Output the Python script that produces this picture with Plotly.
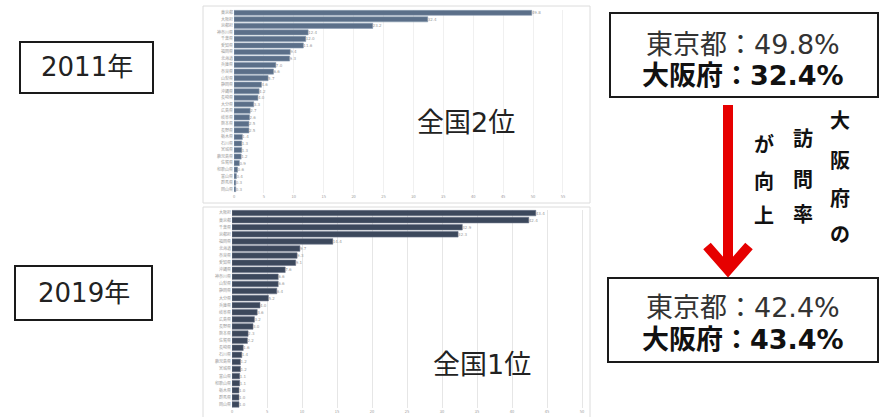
import plotly.graph_objects as go

W, H = 885, 417

# 2011 visit rate by prefecture (%)
pref_2011 = ["東京都", "大阪府", "京都府", "神奈川県", "千葉県", "愛知県", "福岡県", "北海道",
             "兵庫県", "奈良県", "山梨県", "静岡県", "沖縄県", "長崎県", "大分県", "広島県",
             "岐阜県", "熊本県", "長野県", "栃木県", "石川県", "宮城県", "鹿児島県", "佐賀県",
             "和歌山県", "富山県", "群馬県", "岡山県"]
rate_2011 = [49.8, 32.4, 23.2, 12.4, 12.0, 11.6, 9.4, 9.3, 7.0, 6.6, 5.7, 4.6, 4.2, 4.0,
             3.3, 2.7, 2.6, 2.5, 2.5, 1.4, 1.3, 1.3, 1.2, 0.9, 0.6, 0.4, 0.3, 0.3]

# 2019 visit rate by prefecture (%)
pref_2019 = ["大阪府", "東京都", "千葉県", "京都府", "福岡県", "北海道", "奈良県", "愛知県",
             "沖縄県", "神奈川県", "山梨県", "静岡県", "大分県", "兵庫県", "岐阜県", "広島県",
             "長野県", "熊本県", "佐賀県", "長崎県", "石川県", "鹿児島県", "宮城県", "富山県",
             "和歌山県", "栃木県", "群馬県", "岡山県"]
rate_2019 = [43.4, 42.4, 32.9, 32.3, 14.4, 9.7, 9.3, 9.1, 7.6, 6.6, 6.6, 6.4, 5.2, 4.0,
             3.6, 3.2, 3.0, 2.3, 2.2, 1.6, 1.4, 1.2, 1.2, 1.1, 1.1, 1.0, 1.0, 1.0]

FONT = "DejaVu Sans, Noto Sans CJK JP"
SMALL = "Noto Sans CJK JP"


def px(x):
    return x / W


def py(y):
    return 1 - y / H


fig = go.Figure()

fig.add_trace(go.Bar(
    y=pref_2011, x=rate_2011, orientation="h", xaxis="x", yaxis="y",
    marker=dict(color="#5b6f89", line=dict(color="#8a9cb2", width=0.6)),
    text=[f"{v:.1f}" for v in rate_2011], textposition="outside", cliponaxis=False,
    textfont=dict(size=4, color="#999999"), showlegend=False,
))
fig.add_trace(go.Bar(
    y=pref_2019, x=rate_2019, orientation="h", xaxis="x2", yaxis="y2",
    marker=dict(color="#3c485c", line=dict(color="#6b7689", width=0.6)),
    text=[f"{v:.1f}" for v in rate_2019], textposition="outside", cliponaxis=False,
    textfont=dict(size=4, color="#999999"), showlegend=False,
))

axis_common = dict(showline=False, zeroline=False, tickfont=dict(size=4, color="#9a9a9a", family=SMALL))

fig.update_layout(
    width=W, height=H, margin=dict(l=0, r=0, t=0, b=0),
    paper_bgcolor="white", plot_bgcolor="white", bargap=0.22,
    font=dict(family=FONT),
    xaxis=dict(domain=[px(234), px(588)], range=[0, (588 - 234) / 5.98], tickmode="linear",
               tick0=0, dtick=5, showgrid=True, gridcolor="#f0f0f0", anchor="y", **axis_common),
    yaxis=dict(domain=[py(192.5), py(9.5)], autorange="reversed", anchor="x",
               showgrid=False, ticklen=0, **axis_common),
    xaxis2=dict(domain=[px(232), px(590)], range=[0, (590 - 232) / 7.0], tickmode="linear",
                tick0=0, dtick=5, showgrid=True, gridcolor="#e6e6e6", anchor="y2", **axis_common),
    yaxis2=dict(domain=[py(408), py(209.5)], autorange="reversed", anchor="x2",
                showgrid=False, ticklen=0, **axis_common),
)

shapes = []
# chart panel borders
for x0, y0, x1, y1 in [(203, 6, 590, 203), (203, 207, 590, 418)]:
    shapes.append(dict(type="rect", xref="paper", yref="paper", x0=px(x0), x1=px(x1),
                       y0=py(y1), y1=py(y0), line=dict(color="#dcdcdc", width=1)))
# black boxes
for x0, y0, x1, y1 in [(20, 42, 153, 93), (15, 266, 152, 320), (610, 13, 878, 97), (608, 278, 878, 362)]:
    shapes.append(dict(type="rect", xref="paper", yref="paper", x0=px(x0), x1=px(x1),
                       y0=py(y1), y1=py(y0), line=dict(color="#1a1a1a", width=2),
                       fillcolor="rgba(0,0,0,0)"))
# red arrow
shapes.append(dict(type="line", xref="paper", yref="paper", x0=px(728), x1=px(728),
                   y0=py(105), y1=py(268), line=dict(color="#e60000", width=10)))
shapes.append(dict(type="path", xref="paper", yref="paper",
                   path=f"M {px(707)} {py(246)} L {px(728)} {py(270)} L {px(749)} {py(246)}",
                   line=dict(color="#e60000", width=10)))
fig.update_layout(shapes=shapes)

ann = []


def text(x, y, s, size, color="#222222", bold=False):
    if bold:
        s = f"<b>{s}</b>"
    ann.append(dict(x=px(x), y=py(y), xref="paper", yref="paper", text=s, showarrow=False,
                    xanchor="center", yanchor="middle",
                    font=dict(size=size, color=color, family=FONT)))


text(87, 67, "2011年", 26)
text(84, 293, "2019年", 26)
text(466, 123, "全国2位", 27)
text(482, 364, "全国1位", 27)
text(743, 44, "東京都：49.8%", 27, "#333333")
text(743, 75, "大阪府：32.4%", 27, "#111111", bold=True)
text(743, 307, "東京都：42.4%", 27, "#333333")
text(743, 339, "大阪府：43.4%", 27, "#111111", bold=True)

# vertical text columns, read right to left
for ch, y in zip("大阪府の", [121, 161, 199, 235]):
    text(840, y, ch, 20, "#111111", bold=True)
for ch, y in zip("訪問率", [139, 180, 215]):
    text(803, y, ch, 20, "#111111", bold=True)
for ch, y in zip("が向上", [145, 182, 216]):
    text(764, y, ch, 20, "#111111", bold=True)

fig.update_layout(annotations=ann)

fig.write_html("out.html", config={"displayModeBar": False},
               post_script="document.body.style.margin='0';")
